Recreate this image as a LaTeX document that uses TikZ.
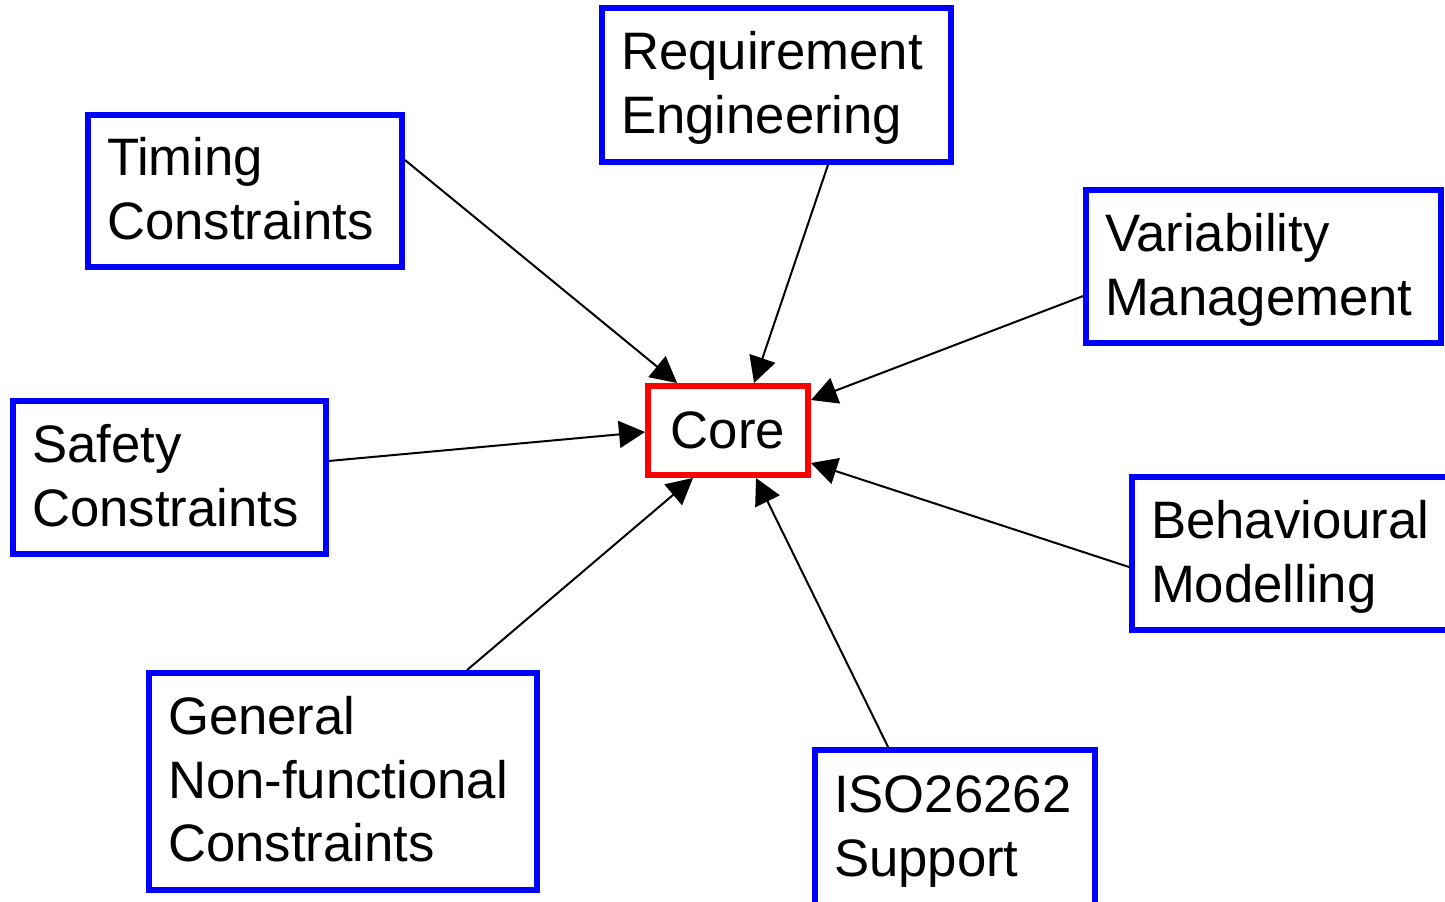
\documentclass[tikz,border=0pt]{standalone}
\usepackage{fontspec}
\setmainfont{Liberation Sans}
\usetikzlibrary{arrows.meta,calc}
\hyphenpenalty=10000\relax
\exhyphenpenalty=10000\relax
\newcommand\ls{\rule[-7pt]{0pt}{33pt}}
\tikzset{
  bluebox/.style={draw={rgb,255:red,0;green,0;blue,255}, line width=0.12cm, rectangle,
    align=left, inner xsep=0.38cm, inner ysep=0pt,
    font=\fontsize{30}{36.3}\selectfont},
  corebox/.style={draw={rgb,255:red,255;green,0;blue,0}, line width=0.12cm, rectangle,
    align=center, inner sep=0pt, minimum width=3.2cm, minimum height=1.78cm,
    font=\fontsize{30}{36.3}\selectfont},
  arr/.style={line width=0.04cm, -{Triangle[length=0.52cm,width=0.54cm]}}
}
\begin{document}
\begin{tikzpicture}[x=0.02cm,y=-0.02cm]
\useasboundingbox (0,0) rectangle (1445,902);
\node[corebox] (core) at (728,430.5) {Core};
\node[bluebox, minimum width=6.98cm, minimum height=3.08cm, text width=6.22cm] (req) at (776.5,85) {\ls Requirement\\ \ls Engineering};
\node[bluebox, minimum width=6.28cm, minimum height=3.04cm, text width=5.52cm] (tim) at (245,191) {\ls Timing\\ \ls Constraints};
\node[bluebox, minimum width=7.1cm, minimum height=3.06cm, text width=6.34cm] (var) at (1263.5,266.5) {\ls Variability\\ \ls Management};
\node[bluebox, minimum width=6.26cm, minimum height=3.06cm, text width=5.5cm] (saf) at (169.5,477.5) {\ls Safety\\ \ls Constraints};
\node[bluebox, minimum width=6.56cm, minimum height=3.06cm, text width=5.8cm] (beh) at (1296,553.5) {\ls Behavioural\\ \ls Modelling};
\node[bluebox, minimum width=7.76cm, minimum height=4.34cm, text width=7cm] (gen) at (343,781.5) {\ls General\\ \ls Non-functional\\ \ls Constraints};
\node[bluebox, minimum width=5.6cm, minimum height=3.1cm, text width=4.84cm] (iso) at (955,827.5) {\ls ISO26262\\ \ls Support};

\draw[arr] ($(tim.north east)!0.304!(tim.south east)$) -- ($(core.north west)!0.193!(core.north east)$);
\draw[arr] ($(req.south west)!0.645!(req.south east)$) -- ($(core.north west)!0.657!(core.north east)$);
\draw[arr] ($(var.north west)!0.686!(var.south west)$) -- ($(core.north east)!0.179!(core.south east)$);
\draw[arr] ($(saf.north east)!0.396!(saf.south east)$) -- ($(core.north west)!0.516!(core.south west)$);
\draw[arr] ($(beh.north west)!0.585!(beh.south west)$) -- ($(core.north east)!0.842!(core.south east)$);
\draw[arr] ($(gen.north west)!0.815!(gen.north east)$) -- ($(core.south west)!0.289!(core.south east)$);
\draw[arr] ($(iso.north west)!0.266!(iso.north east)$) -- ($(core.south west)!0.669!(core.south east)$);
\end{tikzpicture}
\end{document}
